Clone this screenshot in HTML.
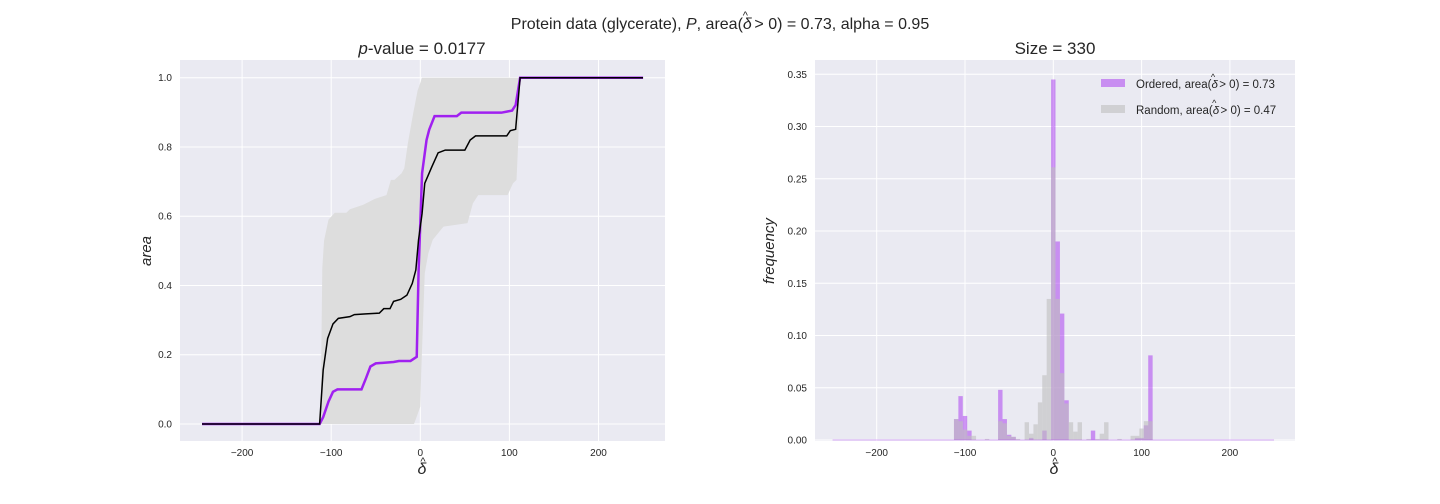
<!DOCTYPE html>
<html><head><meta charset="utf-8"><style>
body{margin:0;background:#fff;}
svg{display:block;font-family:"Liberation Sans",sans-serif;}
</style></head><body>
<svg id="fig" width="1440" height="504">
<text x="720" y="29" text-anchor="middle" font-size="16" fill="#262626">Protein data (glycerate), <tspan font-style="italic">P</tspan>, area(<tspan font-style="italic">δ</tspan><tspan dx="-9" dy="-10" font-size="11">^</tspan><tspan dx="2" dy="10"> &gt; 0) = 0.73, alpha = 0.95</tspan></text>
<text x="422" y="54" text-anchor="middle" font-size="17" fill="#262626"><tspan font-style="italic">p</tspan>-value = 0.0177</text>
<text x="1055" y="54" text-anchor="middle" font-size="17" fill="#262626">Size = 330</text>
<g id="L"></g>
<g id="R"></g>
<text x="151" y="251" text-anchor="middle" font-size="15" font-style="italic" fill="#262626" transform="rotate(-90 151 251)">area</text>
<g>
<text x="422" y="474" text-anchor="middle" font-size="16" font-style="italic" fill="#262626">δ</text>
<text x="423" y="465" text-anchor="middle" font-size="11" fill="#262626">^</text>
</g>
<text x="774" y="251" text-anchor="middle" font-size="15" font-style="italic" fill="#262626" transform="rotate(-90 774 251)">frequency</text>
<g>
<text x="1054" y="474" text-anchor="middle" font-size="16" font-style="italic" fill="#262626">δ</text>
<text x="1055" y="465" text-anchor="middle" font-size="11" fill="#262626">^</text>
</g>
<rect x="1101" y="79" width="24" height="8" fill="rgba(160,32,240,0.45)"/>
<text x="1136" y="88" font-size="11.5" fill="#262626">Ordered, area(<tspan font-style="italic">δ</tspan><tspan dx="-7" dy="-8" font-size="9">^</tspan><tspan dx="1" dy="8"> &gt; 0) = 0.73</tspan></text>
<rect x="1101" y="105" width="24" height="8" fill="rgba(190,190,190,0.6)"/>
<text x="1136" y="114" font-size="11.5" fill="#262626">Random, area(<tspan font-style="italic">δ</tspan><tspan dx="-7" dy="-8" font-size="9">^</tspan><tspan dx="1" dy="8"> &gt; 0) = 0.47</tspan></text>
</svg>
<script>
// Left chart data
const purpleX=[-245,-113,-109,-103,-98,-93,-66,-61,-56,-50,-30,-24,-11,-4,-2,2,7,10,16,41,46,91,103,107,112,250];
const purpleY=[0,0,0.02,0.065,0.093,0.1,0.1,0.132,0.166,0.175,0.179,0.182,0.182,0.194,0.435,0.724,0.82,0.85,0.889,0.889,0.899,0.899,0.905,0.921,1,1];
const blackX=[-245,-113,-109,-104,-98,-92,-79,-74,-61,-46,-41,-34,-30,-22,-15,-9,-5,-2,2,5,13,20,28,50,56,62,97,101,107,112,250];
const blackY=[0,0,0.156,0.247,0.289,0.305,0.31,0.316,0.318,0.32,0.333,0.333,0.354,0.36,0.372,0.406,0.445,0.531,0.608,0.695,0.743,0.783,0.791,0.791,0.82,0.832,0.832,0.847,0.851,1,1];
const upperX=[-112,-110,-108,-103,-96,-83,-79,-64,-51,-38,-33,-29,-21,-18,-14,-8,-3,2,250];
const upperY=[0,0.45,0.53,0.59,0.61,0.61,0.62,0.633,0.65,0.661,0.705,0.705,0.724,0.738,0.81,0.897,0.963,1,1];
const lowerX=[-112,-7,0,1,5,9,14,26,53,59,65,98,104,108,110,112,250];
const lowerY=[0,0,0.05,0.146,0.435,0.493,0.532,0.57,0.58,0.637,0.661,0.661,0.695,0.705,0.82,1,1];
const leftXTicks=[-200,-100,0,100,200];
const leftYTicks=[0,0.2,0.4,0.6,0.8,1.0];
// Right chart data (bin centers, width 5)
const ordBins=[-110,-105,-100,-95,-60,-55,-50,-45,-25,-10,0,5,10,15,45,95,100,105,110];
const ordVals=[0.020,0.042,0.023,0.009,0.048,0.020,0.005,0.003,0.002,0.009,0.345,0.19,0.121,0.038,0.009,0.002,0.002,0.014,0.081];
const rndBins=[-110,-105,-100,-95,-90,-75,-60,-55,-50,-45,-40,-30,-25,-20,-15,-10,-5,0,5,10,15,20,25,30,40,50,55,60,75,90,95,100,105,110];
const rndVals=[0.020,0.018,0.010,0.004,0.004,0.001,0.018,0.016,0.004,0.003,0.001,0.017,0.006,0.015,0.036,0.062,0.135,0.261,0.135,0.064,0.035,0.017,0.008,0.017,0.001,0.001,0.006,0.017,0.001,0.004,0.004,0.011,0.018,0.018];
const rightXTicks=[-200,-100,0,100,200];
const rightYTicks=[0,0.05,0.1,0.15,0.2,0.25,0.3,0.35];

const NS='http://www.w3.org/2000/svg';
function mk(tag,attrs,parent){const e=document.createElementNS(NS,tag);for(const k in attrs)e.setAttribute(k,attrs[k]);parent.appendChild(e);return e;}

function axes(g,x0,x1,y0,y1,sx,sy,xt,yt,fmt,prefix){
  const bg=mk('rect',{x:x0,y:y0,width:x1-x0,height:y1-y0,fill:'#eaeaf2'},g);
  
  
  xt.forEach(v=>{
    const l=mk('line',{x1:sx(v),x2:sx(v),y1:y0,y2:y1,stroke:'#fff','stroke-width':1},g);
    
    
    const t=mk('text',{x:sx(v),y:y1+15,'text-anchor':'middle','font-size':10,fill:'#262626'},g);
    t.textContent=v===0?'0':String(v).replace('-','−');
    
    
  });
  yt.forEach(v=>{
    const l=mk('line',{x1:x0,x2:x1,y1:sy(v),y2:sy(v),stroke:'#fff','stroke-width':1},g);
    
    
    const t=mk('text',{x:x0-8,y:sy(v)+3.5,'text-anchor':'end','font-size':10,fill:'#262626'},g);
    t.textContent=fmt(v);
    
    
  });
}

// Left
const L=document.getElementById('L');
const lx=v=>420.3+v*0.891, ly=v=>424-v*346.3;
axes(L,180,665,60,441,lx,ly,leftXTicks,leftYTicks,v=>v.toFixed(1),'left');
let d='M'+upperX.map((x,i)=>lx(x)+','+ly(upperY[i])).join(' L');
for(let i=lowerX.length-1;i>=0;i--) d+=' L'+lx(lowerX[i])+','+ly(lowerY[i]);
const band=mk('path',{d:d+'Z',fill:'#dddddd'},L);


const pl=mk('polyline',{points:purpleX.map((x,i)=>lx(x)+','+ly(purpleY[i])).join(' '),fill:'none',stroke:'#a020f0','stroke-width':2.5},L);


const bl=mk('polyline',{points:blackX.map((x,i)=>lx(x)+','+ly(blackY[i])).join(' '),fill:'none',stroke:'#000','stroke-width':1.5},L);



// Right
const R=document.getElementById('R');
const rx=v=>1053.3+v*0.883, ry=v=>440-v*1044.9;
axes(R,815,1295,60,441,rx,ry,rightXTicks,rightYTicks,v=>v.toFixed(2),'right');
const bw=5;
ordBins.forEach((c,i)=>{
  const r=mk('rect',{x:rx(c-bw/2),y:ry(ordVals[i]),width:rx(c+bw/2)-rx(c-bw/2),height:ry(0)-ry(ordVals[i]),fill:'rgba(160,32,240,0.45)'},R);
  
  
});
rndBins.forEach((c,i)=>{
  const r=mk('rect',{x:rx(c-bw/2),y:ry(rndVals[i]),width:rx(c+bw/2)-rx(c-bw/2),height:ry(0)-ry(rndVals[i]),fill:'rgba(190,190,190,0.6)'},R);
  
  
});
const base=mk('line',{x1:rx(-250),x2:rx(250),y1:ry(0),y2:ry(0),stroke:'rgba(160,32,240,0.35)','stroke-width':1},R);


</script>
</body></html>
